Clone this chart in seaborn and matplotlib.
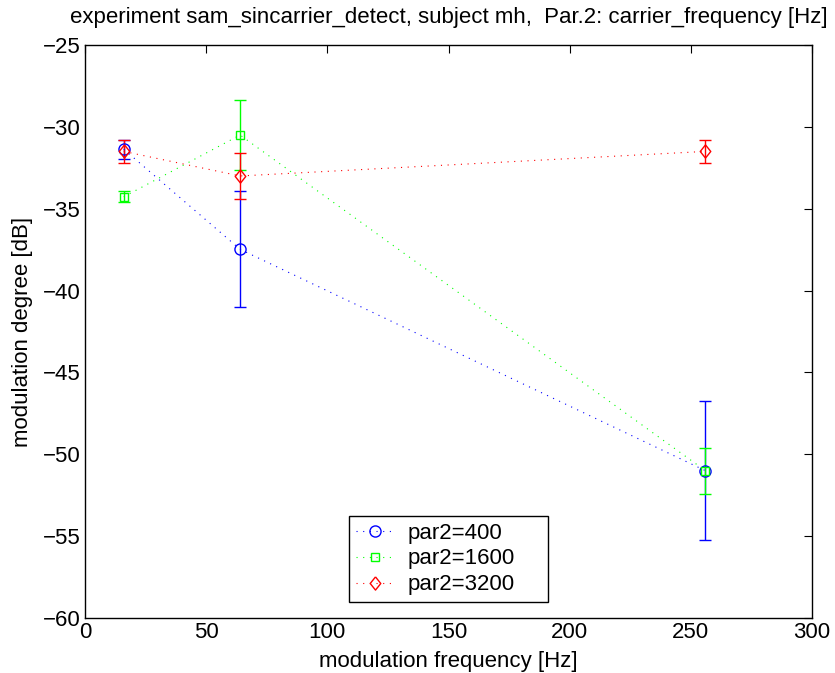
import numpy as np
import pandas as pd
import matplotlib
matplotlib.use("Agg")
import matplotlib.pyplot as plt
import seaborn as sns

# ---- data ----
mod_freq = [16, 64, 256]
series_labels = ["par2=400", "par2=1600", "par2=3200"]
y_400 = [-31.37, -37.48, -51.0]
err_400 = [0.58, 3.54, 4.25]
y_1600 = [-34.27, -30.50, -51.0]
err_1600 = [0.35, 2.14, 1.41]
y_3200 = [-31.50, -33.00, -31.50]
err_3200 = [0.69, 1.42, 0.69]
x_ticks = [0, 50, 100, 150, 200, 250, 300]
y_ticks = [-60, -55, -50, -45, -40, -35, -30, -25]

sns.set_style("white")
plt.rcParams["font.family"] = ["Liberation Sans", "DejaVu Sans"]
plt.rcParams["text.color"] = "black"
plt.rcParams["axes.labelcolor"] = "black"
plt.rcParams["xtick.color"] = "black"
plt.rcParams["ytick.color"] = "black"

fig = plt.figure(figsize=(8.35, 6.73), dpi=100)
ax = fig.add_axes([85 / 835, 55 / 673, 727 / 835, 573 / 673])

diamond = [(0, 1), (0.8, 0), (0, -1), (-0.8, 0), (0, 1)]
colors = ["#0000ff", "#00ff00", "#ff0000"]
markers = ["o", "s", diamond]
msizes = [8, 6, 9.5]
ys = [y_400, y_1600, y_3200]
errs = [err_400, err_1600, err_3200]

for lab, yv, ev, c, m, ms in zip(series_labels, ys, errs, colors, markers, msizes):
    df = pd.DataFrame({"f": mod_freq, "y": yv})
    ax.errorbar(df["f"], df["y"], yerr=ev, fmt="none", ecolor=c,
                elinewidth=1.0, capsize=4.3, capthick=1.0, zorder=2)
    sns.lineplot(data=df, x="f", y="y", ax=ax, color=c, marker=m,
                 markersize=ms, linestyle=(0, (1, 5)),
                 linewidth=0.8, markerfacecolor="none", mec=c, mew=1.0,
                 label=lab, errorbar=None, zorder=3)

ax.set_xlim(0, 300)
ax.set_ylim(-60, -25)
ax.set_xticks(x_ticks)
ax.set_yticks(y_ticks)
ax.set_xticklabels([str(t) for t in x_ticks])
ax.set_yticklabels(["\u2212" + str(abs(t)) for t in y_ticks])
ax.tick_params(direction="in", length=6, width=0.8, colors="black",
               labelsize=16, top=True, right=True, pad=3)
for s in ax.spines.values():
    s.set_visible(True)
    s.set_color("black")
    s.set_linewidth(1.0)

ax.set_xlabel("modulation frequency [Hz]", fontsize=16, labelpad=6)
ax.set_ylabel("modulation degree [dB]", fontsize=16, labelpad=7)
ax.set_title("experiment sam_sincarrier_detect, subject mh,  Par.2: carrier_frequency [Hz]",
             fontsize=16, pad=16)

leg = ax.legend(loc="lower left",
                bbox_to_anchor=((349 - 85) / 727, 16 / 573, 199 / 727, 82 / 573),
                mode="expand", fontsize=16,
                frameon=True, fancybox=False, edgecolor="black", framealpha=1,
                handlelength=1.75, borderaxespad=0, labelspacing=0.22,
                borderpad=0.3, handletextpad=0.6)
leg.get_frame().set_linewidth(1.0)
for t in leg.get_texts():
    t.set_color("black")

ax.grid(False)
fig.savefig("out.png", dpi=100, facecolor="white")
